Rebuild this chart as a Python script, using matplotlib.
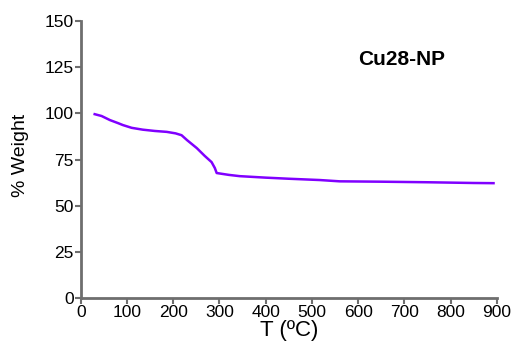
import matplotlib.pyplot as plt

plt.rcParams['font.family'] = ['Liberation Sans', 'DejaVu Sans']

# TGA curve
temp = [30, 45, 63, 80, 91, 110, 134, 160, 186, 205, 218, 230, 251, 268, 283, 290, 294,
        320, 344, 400, 450, 517, 560, 650, 750, 850, 893]
weight = [99.6, 98.6, 96.4, 94.8, 93.7, 92.2, 91.2, 90.5, 90.0, 89.2, 88.2, 85.5, 81.2,
          77.0, 73.6, 70.4, 67.7, 66.7, 66.0, 65.2, 64.6, 63.9, 63.2, 63.0, 62.7, 62.3, 62.2]

fig = plt.figure(figsize=(5.18, 3.53), dpi=100)
ax = fig.add_axes([0.156, 0.156, 0.803, 0.784])

ax.plot(temp, weight, color='#8000ff', lw=1.8)

ax.set_xlim(0, 900)
ax.set_ylim(0, 150)
ax.set_xticks(range(0, 901, 100))
ax.set_yticks(range(0, 151, 25))
ax.set_xlabel('T (ºC)', fontsize=16, labelpad=0)
ax.set_ylabel('% Weight', fontsize=14, labelpad=9)
ax.yaxis.set_label_coords(-0.125, 0.515)
ax.text(695, 129, 'Cu28-NP', fontsize=15, fontweight='bold', ha='center', va='center')

for s in ['top', 'right']:
    ax.spines[s].set_visible(False)
for s in ['left', 'bottom']:
    ax.spines[s].set_color('#6e6e6e')
    ax.spines[s].set_linewidth(2)
ax.tick_params(color='#6e6e6e', width=1.5, length=4, labelsize=12.5, pad=1)

fig.savefig('out.png', dpi=100)
